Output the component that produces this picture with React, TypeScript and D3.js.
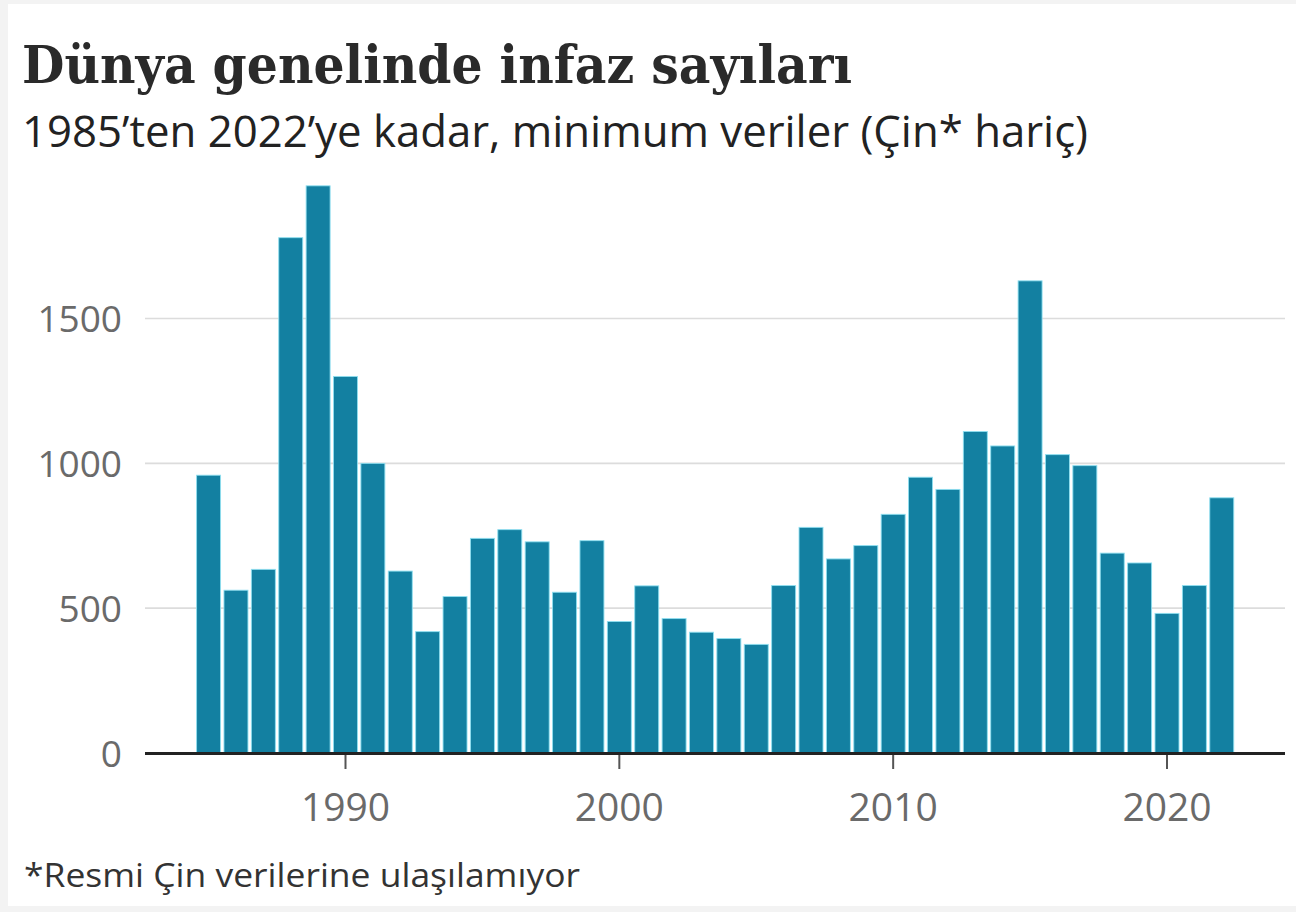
import React from "react";
import * as d3 from "d3";

const years: number[] = [
  1985, 1986, 1987, 1988, 1989, 1990, 1991, 1992, 1993, 1994,
  1995, 1996, 1997, 1998, 1999, 2000, 2001, 2002, 2003, 2004,
  2005, 2006, 2007, 2008, 2009, 2010, 2011, 2012, 2013, 2014,
  2015, 2016, 2017, 2018, 2019, 2020, 2021, 2022,
];
const executions: number[] = [
  959, 562, 634, 1779, 1958, 1300, 1000, 628, 419, 540,
  741, 771, 729, 555, 733, 454, 577, 464, 417, 395,
  375, 578, 779, 670, 716, 824, 952, 910, 1110, 1060,
  1630, 1030, 992, 690, 656, 482, 578, 881,
];
const yTicks: number[] = [0, 500, 1000, 1500];
const xTicks: number[] = [1990, 2000, 2010, 2020];

const title = "Dünya genelinde infaz sayıları";
const subtitle = "1985’ten 2022’ye kadar, minimum veriler (Çin* hariç)";
const footnote = "*Resmi Çin verilerine ulaşılamıyor";

const W = 1296;
const H = 912;
const plotLeft = 145;
const plotRight = 1285;
const baseY = 753;

export default function App() {
  const x = d3.scaleLinear().domain([1990, 2020]).range([345.5, 1167]);
  const step = x(1991) - x(1990);
  const barW = step - 3.4;
  const y = d3.scaleLinear().domain([0, 1500]).range([baseY, 318.5]);
  const sansAxis = "'Open Sans', 'Noto Sans', sans-serif";

  return (
    <svg
      width={W}
      height={H}
      style={{ position: "absolute", left: 0, top: 0, display: "block" }}
    >
      <rect x={0} y={0} width={W} height={H} fill="#f3f3f3" />
      <rect x={8} y={4} width={W - 8} height={H - 10} fill="#ffffff" />

      <text
        x={22}
        y={83}
        fontFamily="'DejaVu Serif', 'Liberation Serif', serif"
        fontWeight={700}
        fontSize={52}
        fill="#2a2a2a"
        textLength={830}
        lengthAdjust="spacingAndGlyphs"
      >
        {title}
      </text>
      <text
        x={22}
        y={147}
        fontFamily="'Open Sans', sans-serif"
        fontSize={44}
        fill="#222222"
        textLength={1066}
        lengthAdjust="spacingAndGlyphs"
      >
        {subtitle}
      </text>

      {yTicks
        .filter((t) => t > 0)
        .map((t) => (
          <line
            key={"g" + t}
            x1={plotLeft}
            x2={plotRight}
            y1={y(t)}
            y2={y(t)}
            stroke="#dcdcdc"
            strokeWidth={1.6}
          />
        ))}

      {yTicks.map((t) => (
        <text
          key={"yl" + t}
          x={122}
          y={y(t) + 13.5}
          textAnchor="end"
          fontFamily={sansAxis}
          fontSize={37}
          fill="#6a6a6a"
        >
          {t}
        </text>
      ))}

      {years.map((yr, i) => (
        <rect
          key={yr}
          x={x(yr) - barW / 2}
          y={y(executions[i])}
          width={barW}
          height={baseY - y(executions[i])}
          fill="#1380a1"
          stroke="#8fdff0"
          strokeWidth={0.9}
        />
      ))}

      <line
        x1={plotLeft}
        x2={plotRight}
        y1={baseY + 0.5}
        y2={baseY + 0.5}
        stroke="#222222"
        strokeWidth={3}
      />

      {xTicks.map((t) => (
        <g key={"xt" + t}>
          <line
            x1={x(t)}
            x2={x(t)}
            y1={baseY + 2}
            y2={baseY + 16}
            stroke="#555555"
            strokeWidth={2}
          />
          <text
            x={x(t)}
            y={821}
            textAnchor="middle"
            fontFamily={sansAxis}
            fontSize={39}
            fill="#6a6a6a"
          >
            {t}
          </text>
        </g>
      ))}

      <text
        x={24}
        y={887}
        fontFamily="'Open Sans', 'Noto Sans', sans-serif"
        fontSize={33}
        fill="#333333"
        textLength={556}
        lengthAdjust="spacingAndGlyphs"
      >
        {footnote}
      </text>
    </svg>
  );
}
